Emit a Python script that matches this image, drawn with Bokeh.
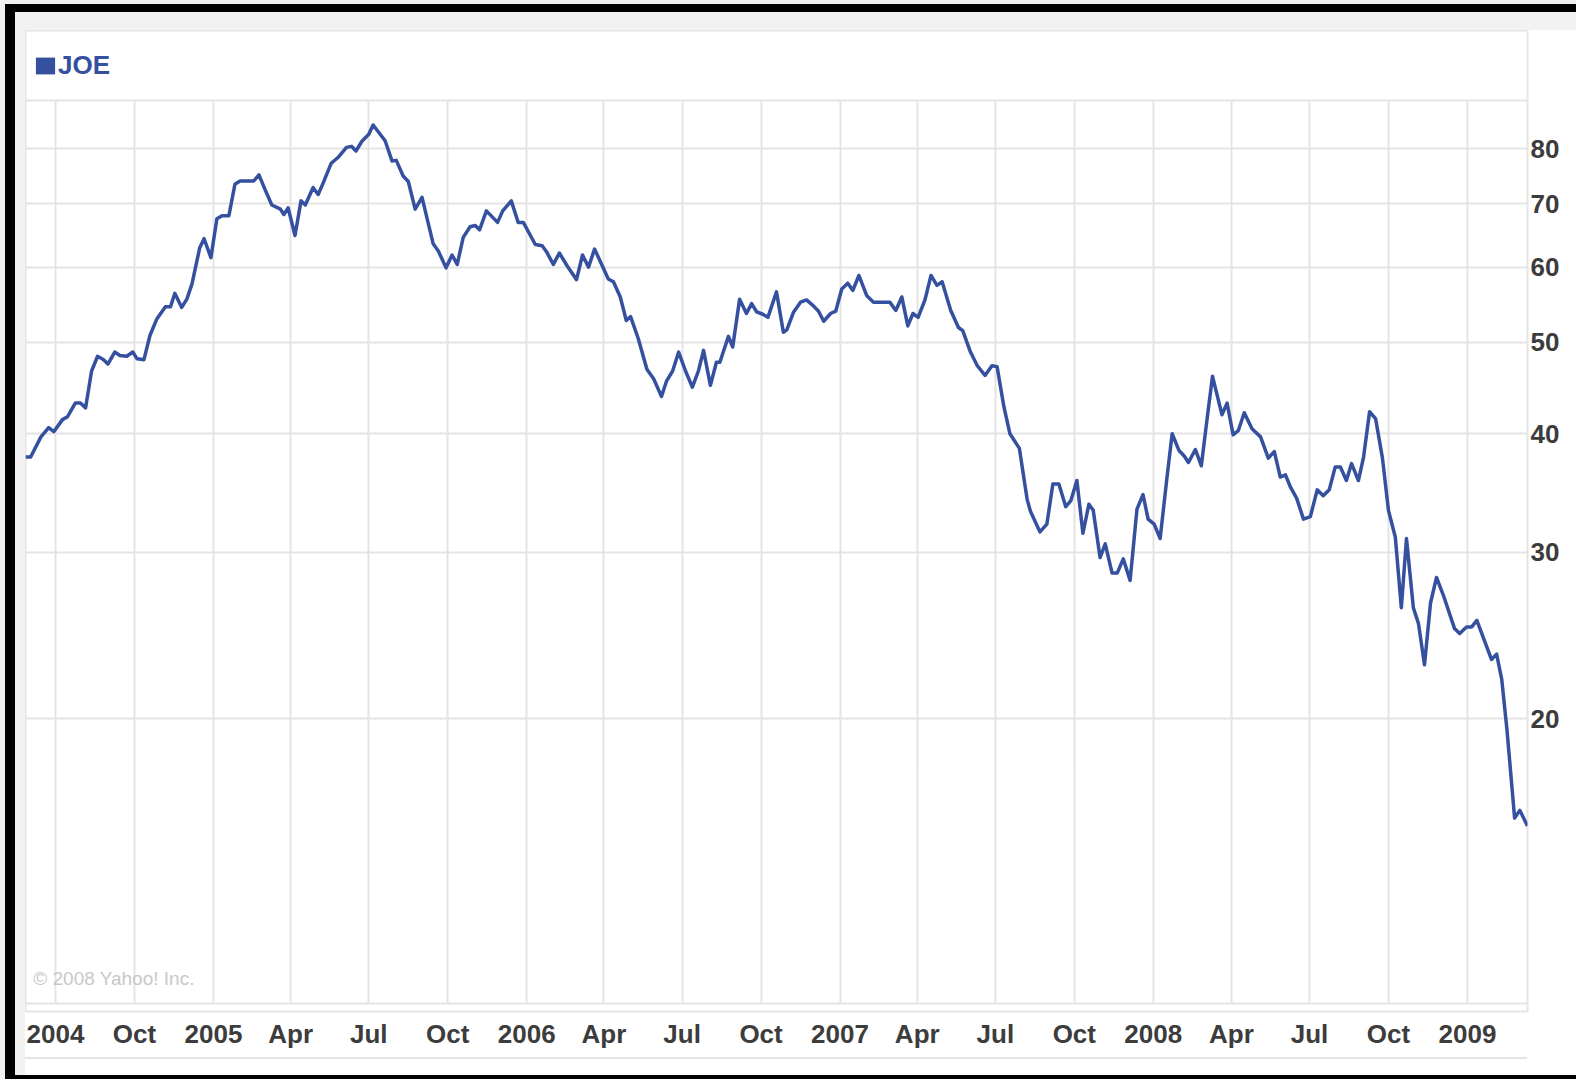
import pandas as pd
from bokeh.plotting import figure
from bokeh.layouts import column, row
from bokeh.models import (FixedTicker, Legend, LegendItem, BoxAnnotation, Label,
                          Range1d, PrintfTickFormatter, Div)
from bokeh.embed import file_html
from bokeh.resources import INLINE
from bokeh.core.properties import value

# ---------------- data (weekly-ish closes of JOE) ----------------
dates = [
    "2004-05-27", "2004-06-02", "2004-06-14", "2004-06-23", "2004-06-29", "2004-07-09", "2004-07-15",
    "2004-07-24", "2004-07-30", "2004-08-05", "2004-08-12", "2004-08-19", "2004-08-26", "2004-08-31",
    "2004-09-08", "2004-09-14", "2004-09-22", "2004-09-29", "2004-10-04", "2004-10-12", "2004-10-19",
    "2004-10-27", "2004-11-06", "2004-11-12", "2004-11-17", "2004-11-25", "2004-12-01", "2004-12-07",
    "2004-12-16", "2004-12-21", "2004-12-29", "2005-01-05", "2005-01-11", "2005-01-19", "2005-01-26",
    "2005-02-01", "2005-02-17", "2005-02-23", "2005-03-02", "2005-03-10", "2005-03-20", "2005-03-24",
    "2005-03-29", "2005-04-06", "2005-04-13", "2005-04-18", "2005-04-27", "2005-05-03", "2005-05-09",
    "2005-05-18", "2005-05-27", "2005-06-05", "2005-06-11", "2005-06-16", "2005-06-23", "2005-07-01",
    "2005-07-06", "2005-07-20", "2005-07-28", "2005-08-02", "2005-08-10", "2005-08-16", "2005-08-24",
    "2005-09-01", "2005-09-14", "2005-09-20", "2005-09-29", "2005-10-06", "2005-10-12", "2005-10-19",
    "2005-10-27", "2005-11-02", "2005-11-07", "2005-11-15", "2005-11-28", "2005-12-04", "2005-12-14",
    "2005-12-22", "2005-12-28", "2006-01-11", "2006-01-19", "2006-01-24", "2006-02-01", "2006-02-08",
    "2006-02-17", "2006-02-28", "2006-03-07", "2006-03-14", "2006-03-21", "2006-03-30", "2006-04-06",
    "2006-04-12", "2006-04-20", "2006-04-27", "2006-05-02", "2006-05-11", "2006-05-21", "2006-05-29",
    "2006-06-07", "2006-06-13", "2006-06-20", "2006-06-27", "2006-07-05", "2006-07-13", "2006-07-20",
    "2006-07-26", "2006-08-03", "2006-08-10", "2006-08-14", "2006-08-24", "2006-08-29", "2006-09-06",
    "2006-09-14", "2006-09-20", "2006-09-26", "2006-10-03", "2006-10-09", "2006-10-19", "2006-10-27",
    "2006-10-31", "2006-11-08", "2006-11-16", "2006-11-23", "2006-12-01", "2006-12-07", "2006-12-13",
    "2006-12-21", "2006-12-27", "2007-01-03", "2007-01-10", "2007-01-16", "2007-01-23", "2007-02-01",
    "2007-02-09", "2007-02-28", "2007-03-07", "2007-03-14", "2007-03-21", "2007-03-27", "2007-04-02",
    "2007-04-10", "2007-04-17", "2007-04-24", "2007-04-30", "2007-05-10", "2007-05-19", "2007-05-24",
    "2007-06-02", "2007-06-10", "2007-06-19", "2007-06-27", "2007-07-03", "2007-07-11", "2007-07-18",
    "2007-07-29", "2007-08-07", "2007-08-11", "2007-08-22", "2007-08-30", "2007-09-06", "2007-09-13",
    "2007-09-21", "2007-09-27", "2007-10-04", "2007-10-11", "2007-10-18", "2007-10-23", "2007-10-31",
    "2007-11-06", "2007-11-14", "2007-11-20", "2007-11-27", "2007-12-05", "2007-12-13", "2007-12-20",
    "2007-12-26", "2008-01-02", "2008-01-09", "2008-01-17", "2008-01-23", "2008-01-31", "2008-02-06",
    "2008-02-11", "2008-02-19", "2008-02-26", "2008-03-03", "2008-03-10", "2008-03-21", "2008-03-27",
    "2008-04-03", "2008-04-09", "2008-04-16", "2008-04-25", "2008-05-05", "2008-05-14", "2008-05-21",
    "2008-05-28", "2008-06-03", "2008-06-09", "2008-06-16", "2008-06-24", "2008-07-02", "2008-07-10",
    "2008-07-17", "2008-07-24", "2008-07-31", "2008-08-06", "2008-08-13", "2008-08-19", "2008-08-27",
    "2008-09-02", "2008-09-09", "2008-09-16", "2008-09-24", "2008-10-01", "2008-10-09", "2008-10-16",
    "2008-10-22", "2008-10-30", "2008-11-05", "2008-11-12", "2008-11-19", "2008-11-26", "2008-12-04",
    "2008-12-17", "2008-12-23", "2008-12-31", "2009-01-06", "2009-01-12", "2009-01-29", "2009-02-04",
    "2009-02-10", "2009-02-16", "2009-02-25", "2009-03-03", "2009-03-12",
]

prices = [
    37.8, 37.8, 39.7, 40.6, 40.2, 41.4, 41.7,
    43.1, 43.1, 42.6, 46.6, 48.3, 47.9, 47.4,
    48.8, 48.4, 48.3, 48.8, 48.0, 47.9, 50.8,
    52.9, 54.5, 54.5, 56.3, 54.4, 55.5, 57.6,
    62.9, 64.3, 61.4, 67.5, 68.0, 68.0, 73.4,
    74.0, 74.0, 75.1, 72.5, 69.8, 69.1, 68.2,
    69.3, 64.8, 70.5, 69.8, 72.8, 71.6, 73.7,
    77.2, 78.5, 80.3, 80.5, 79.6, 81.5, 82.9,
    84.8, 81.6, 77.7, 77.8, 74.9, 73.9, 69.1,
    71.1, 63.5, 62.4, 59.9, 61.8, 60.4, 64.5,
    66.2, 66.4, 65.7, 68.8, 66.9, 68.8, 70.5,
    66.9, 66.9, 63.4, 63.2, 62.3, 60.4, 62.1,
    60.2, 58.2, 61.8, 60.0, 62.7, 60.2, 58.3,
    57.9, 55.8, 52.7, 53.2, 50.4, 46.8, 45.7,
    43.8, 45.5, 46.6, 48.8, 46.6, 44.8, 46.6,
    49.0, 45.0, 47.6, 47.6, 50.7, 49.4, 55.5,
    53.6, 54.9, 53.8, 53.5, 53.1, 56.5, 51.2,
    51.5, 53.8, 55.1, 55.4, 54.6, 53.9, 52.6,
    53.6, 53.9, 56.9, 57.7, 56.7, 58.8, 56.0,
    55.1, 55.1, 54.0, 55.8, 52.0, 53.6, 53.1,
    55.4, 58.8, 57.4, 57.9, 54.0, 51.8, 51.4,
    48.8, 47.2, 46.1, 47.2, 47.1, 42.7, 40.0,
    38.6, 34.1, 33.1, 31.5, 32.1, 35.4, 35.4,
    33.5, 34.0, 35.7, 31.4, 33.7, 33.2, 29.6,
    30.6, 28.5, 28.5, 29.5, 28.0, 33.3, 34.5,
    32.5, 32.1, 31.0, 36.0, 40.0, 38.4, 37.9,
    37.3, 38.5, 37.0, 41.0, 46.0, 41.9, 43.1,
    39.9, 40.3, 42.1, 40.5, 39.7, 37.7, 38.3,
    36.0, 36.2, 35.1, 34.2, 32.5, 32.7, 34.9,
    34.4, 34.9, 36.9, 36.9, 35.7, 37.2, 35.7,
    37.8, 42.2, 41.5, 37.7, 33.2, 31.1, 26.2,
    31.0, 26.2, 25.2, 22.8, 26.5, 28.2, 27.0,
    24.9, 24.6, 25.0, 25.0, 25.4, 23.1, 23.4,
    22.0, 19.5, 15.7, 16.0, 15.4,
]

tick_dates = ["2004-07-01", "2004-10-01", "2005-01-01", "2005-04-01", "2005-07-01", "2005-10-01",
              "2006-01-01", "2006-04-01", "2006-07-01", "2006-10-01", "2007-01-01", "2007-04-01",
              "2007-07-01", "2007-10-01", "2008-01-01", "2008-04-01", "2008-07-01", "2008-10-01",
              "2009-01-01"]
tick_labels = ["2004", "Oct", "2005", "Apr", "Jul", "Oct", "2006", "Apr", "Jul", "Oct",
               "2007", "Apr", "Jul", "Oct", "2008", "Apr", "Jul", "Oct", "2009"]
price_ticks = [20, 30, 40, 50, 60, 70, 80]

series_name = "JOE"
copyright_text = "\u00a9 2008 Yahoo! Inc."

# ---------------- styling / layout ----------------
BLUE = "#34509f"
GRID = "#e4e4e4"
LABEL = "#3c3c3c"
FONT = "Liberation Sans"
LIGHT = "#f0f0f0"

PLOT_LO, PLOT_HI = 10, 90          # visible price band of the chart
PLOT_PX = 903                      # height of that band in pixels
FIG_W, FIG_H = 1551, 1027
FRAME_TOP_PAD, FRAME_BOT_PAD = 70, 8   # legend band above / gap below the price band
y_top = PLOT_HI * (PLOT_HI / PLOT_LO) ** (FRAME_TOP_PAD / PLOT_PX)
y_bot = PLOT_LO / (PLOT_HI / PLOT_LO) ** (FRAME_BOT_PAD / PLOT_PX)

x = pd.to_datetime(dates)
tick_ms = [int(t) for t in (pd.to_datetime(tick_dates).astype("int64") // 10**6)]

p = figure(width=FIG_W, height=FIG_H, output_backend="svg", toolbar_location=None,
           x_axis_type="datetime", y_axis_type="log", y_axis_location="right",
           x_range=Range1d(pd.Timestamp("2004-05-27"), pd.Timestamp("2009-03-12")),
           y_range=Range1d(y_bot, y_top),
           min_border_left=0, min_border_right=49, min_border_top=0,
           min_border_bottom=FIG_H - (FRAME_TOP_PAD + PLOT_PX + FRAME_BOT_PAD),
           background_fill_color="white", border_fill_color="white",
           outline_line_color=GRID, outline_line_width=2, margin=0)

xt = FixedTicker(ticks=tick_ms, minor_ticks=[])
yt = FixedTicker(ticks=price_ticks, minor_ticks=[])
p.xaxis.ticker = xt
p.yaxis.ticker = yt
p.xgrid.ticker = xt
p.ygrid.ticker = yt
p.xaxis.major_label_overrides = {ms: lab for ms, lab in zip(tick_ms, tick_labels)}
p.yaxis.formatter = PrintfTickFormatter(format="%d")

for ax in (p.xaxis[0], p.yaxis[0]):
    ax.axis_line_color = None
    ax.major_tick_line_color = None
    ax.minor_tick_line_color = None
    ax.major_tick_out = 0
    ax.major_tick_in = 0
    ax.minor_tick_out = 0
    ax.major_label_text_font = FONT
    ax.major_label_text_font_size = "26px"
    ax.major_label_text_font_style = "bold"
    ax.major_label_text_color = LABEL
p.xaxis.major_label_standoff = 7
p.yaxis.major_label_standoff = 3

for g in (p.xgrid[0], p.ygrid[0]):
    g.grid_line_color = GRID
    g.grid_line_width = 2

# zero-height area along the series: invisible in the plot, gives the legend its square swatch
swatch = p.varea(x=x, y1=prices, y2=prices, fill_color=BLUE, fill_alpha=1)
p.line(x, prices, line_color=BLUE, line_width=3.5, line_join="round")

# white bands above and below the price area (legend band / axis gap)
p.add_layout(BoxAnnotation(bottom=PLOT_HI, fill_color="white", fill_alpha=1,
                           line_color=GRID, line_width=2, line_alpha=1))
p.add_layout(BoxAnnotation(top=PLOT_LO, fill_color="white", fill_alpha=1,
                           line_color=GRID, line_width=2, line_alpha=1))

legend = Legend(items=[LegendItem(label=value(series_name), renderers=[swatch])],
                location=(8, FRAME_TOP_PAD + PLOT_PX + FRAME_BOT_PAD - 51), orientation="horizontal",
                glyph_width=24, glyph_height=21, label_standoff=1,
                label_text_font=FONT, label_text_font_size="26px", label_text_font_style="bold",
                label_text_color=BLUE, padding=0, margin=0, spacing=0,
                border_line_color=None, background_fill_alpha=0)
p.add_layout(legend)

p.add_layout(Label(x=pd.Timestamp("2004-06-05"), y=10.63, text=copyright_text,
                   text_font=FONT, text_font_size="19px", text_color="#c8c8c8",
                   text_baseline="middle"))


def strip(w, h, color):
    return Div(text="", width=w, height=h, margin=0, styles={"background-color": color})


page = column(
    strip(1576, 4, LIGHT),
    row(
        strip(5, 1075, LIGHT),
        strip(10, 1075, "black"),
        column(
            strip(1561, 8, "black"),
            strip(1561, 18, "#f2f2f2"),
            row(
                strip(10, 1045, "#f2f2f2"),
                column(p, strip(1502, 2, GRID), spacing=0, margin=0),
                spacing=0, margin=0,
            ),
            strip(1561, 4, "black"),
            spacing=0, margin=0,
        ),
        spacing=0, margin=0,
    ),
    spacing=0, margin=0,
)

open("out.html", "w").write(file_html(page, INLINE))
